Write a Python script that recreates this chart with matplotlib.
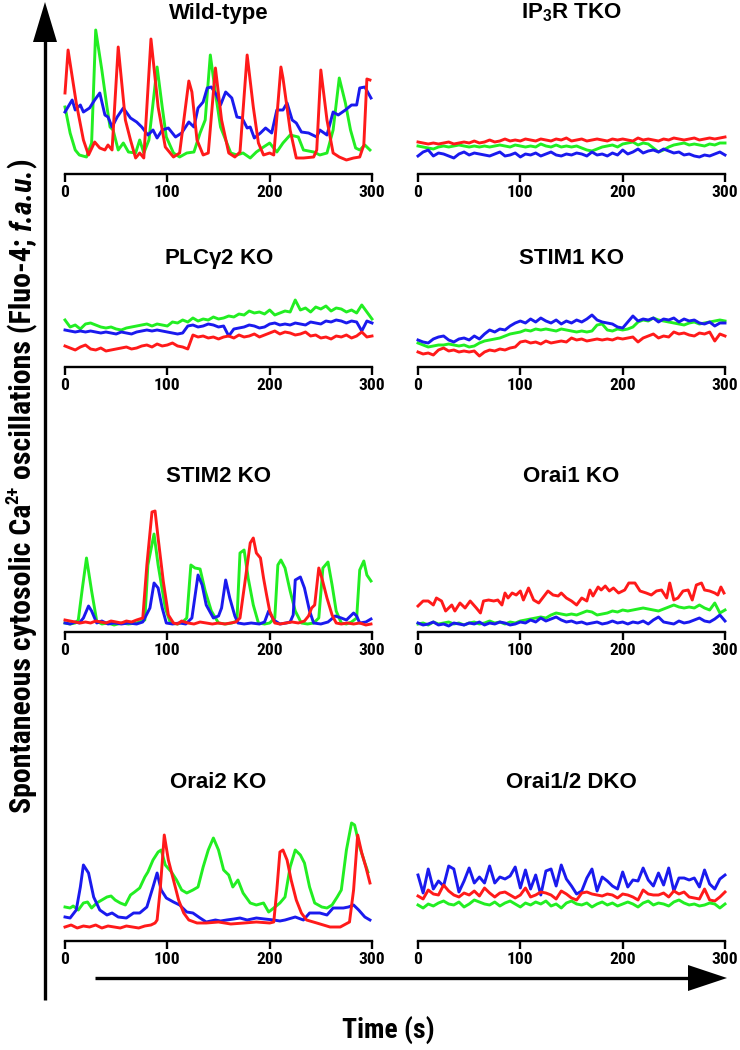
import matplotlib
matplotlib.use('Agg')
import matplotlib.pyplot as plt
from matplotlib import font_manager as fm

# ---------------- data (f.a.u.) ----------------
# Wild-type (time s, value)
wt_red_t = [0,3,11,18,23,29,34,39,42,46,52,59,64,69,73,77,84,91,98,106,112,121,124,129,135,140,147,153,160,166,171,178,184,189,194,200,204,211,213,220,226,233,243,246,250,256,262,268,275,282,288,292,295,298]
wt_red = [81,124,71,34,19,32,26,24,29,24,127,54,34,16,21,16,135,67,27,17,21,93,82,34,19,21,106,54,21,17,22,119,67,31,19,21,19,107,96,44,16,16,17,24,104,54,21,17,14,16,17,29,95,94]
wt_green_t = [0,5,10,14,21,26,30,36,41,44,47,52,57,62,69,73,77,82,90,95,99,106,112,119,126,132,137,142,147,152,157,162,168,174,181,187,194,200,207,213,220,228,233,243,249,256,262,268,274,279,284,288,293,298]
wt_green = [67,41,24,19,17,31,144,104,67,47,44,24,31,22,21,34,21,34,107,67,37,21,17,21,22,41,54,119,81,47,34,21,19,21,16,22,27,31,22,31,39,37,24,22,19,21,44,96,71,44,26,24,29,24]
wt_blue_t = [0,7,10,15,18,24,29,34,39,42,46,51,57,64,70,75,81,86,90,95,101,108,114,121,126,130,135,139,143,148,152,157,163,168,173,178,181,185,191,196,202,207,213,217,222,226,231,238,246,249,256,262,267,274,280,285,288,293,299]
wt_blue = [62,74,64,69,62,66,74,81,59,57,47,57,66,56,52,47,39,44,36,44,46,37,41,52,47,66,72,86,87,79,69,82,76,57,56,46,47,36,41,46,41,64,64,71,54,51,42,41,37,44,39,62,59,64,69,69,86,87,76]

# regular 5-s sampling used for the slowly varying traces
t5 = list(range(0, 301, 5))

ip3_red = [32,31,30,31,30,31,32,30,31,32,31,33,31,32,34,32,33,35,33,34,33,35,34,33,35,34,33,35,34,36,33,34,35,33,34,35,34,33,35,34,35,34,33,36,34,35,34,33,35,34,36,35,34,35,36,34,35,36,35,36,37]
ip3_green = [28,27,26,25,27,28,27,28,29,28,27,28,27,28,27,28,29,28,27,29,28,27,28,27,30,28,27,29,27,28,27,28,26,24,23,25,27,28,29,27,30,31,32,29,31,30,26,22,24,27,29,30,31,29,30,29,28,30,29,31,31]
ip3_blue = [18,22,24,18,21,20,18,16,20,22,19,21,20,19,18,20,22,18,19,21,17,20,19,21,18,20,22,19,18,20,19,21,20,18,22,19,20,18,21,19,24,20,22,25,21,23,24,22,25,23,21,22,19,20,18,17,19,18,20,22,19]

plc_green = [47,40,42,38,43,44,42,40,39,40,38,37,39,40,41,42,43,41,43,42,41,45,44,47,45,49,46,48,47,50,48,49,51,50,53,52,56,54,55,53,57,52,54,56,55,67,57,59,55,60,58,61,56,59,58,55,57,54,62,55,48]
plc_blue = [37,36,35,36,35,36,35,34,35,34,33,35,34,33,35,36,37,36,37,36,35,34,33,34,41,42,40,41,43,42,40,41,31,38,39,40,42,41,39,40,43,44,42,43,42,44,43,42,45,44,43,46,45,47,46,44,46,45,36,46,44]
plc_red = [21,19,17,20,22,18,17,19,16,17,18,19,20,18,19,21,22,20,23,21,22,24,21,20,18,32,30,31,29,30,28,30,31,29,32,30,31,33,30,32,34,36,33,35,34,32,33,35,31,32,29,30,28,31,30,32,29,31,35,30,31]

stim1_blue = [27,25,24,28,30,31,27,25,28,29,27,31,28,33,37,35,38,37,41,44,46,44,48,45,49,46,44,47,43,46,44,47,45,48,52,47,45,44,43,40,39,45,51,46,48,47,49,45,48,47,49,45,48,46,47,44,43,45,41,44,44]
stim1_green = [24,22,20,21,22,22,23,22,21,22,20,21,24,26,27,28,29,31,33,34,35,37,36,38,37,38,37,36,38,37,36,35,36,35,36,42,43,37,36,38,37,38,40,45,47,46,49,47,46,45,44,43,42,44,45,43,44,45,46,47,46]
stim1_red = [15,13,14,12,17,19,16,17,15,16,15,16,11,15,17,16,18,17,19,20,25,26,24,25,23,26,24,25,26,25,29,27,28,26,27,28,27,28,27,29,28,29,30,25,29,31,33,29,31,30,35,33,34,32,31,34,33,35,26,33,31]

stim2_green_t = [0,5,10,13,17,21,26,31,36,42,48,55,62,70,78,81,87,91,98,103,110,115,119,123,127,132,137,143,150,157,163,168,171,175,179,184,189,195,200,205,208,211,215,220,225,231,237,243,248,252,257,261,265,270,275,280,285,288,292,295,299]
stim2_green = [5,4,5,8,40,70,37,7,4,5,3,5,4,5,8,63,94,63,20,5,4,6,10,63,60,59,37,17,5,4,5,7,75,78,50,23,5,4,5,10,63,68,60,37,17,5,4,5,10,60,66,43,17,5,4,6,10,58,67,53,47]
stim2_red_t = [0,5,10,15,20,25,30,35,40,45,50,55,60,65,70,76,80,85,88,91,96,101,106,110,114,120,126,132,138,144,150,156,162,167,171,176,181,184,187,191,194,197,200,205,210,216,222,228,234,238,241,244,248,251,256,261,265,270,276,282,288,294,299]
stim2_red = [8,7,6,5,6,5,7,6,5,7,6,5,7,6,8,10,63,116,117,90,47,13,5,4,7,5,4,6,5,4,5,4,5,6,10,47,85,90,75,70,50,33,17,5,4,5,6,5,7,12,20,23,60,50,30,13,5,4,5,4,5,3,4]
stim2_blue_t = [0,5,10,14,18,23,26,31,36,42,48,55,62,70,76,83,87,91,95,99,105,112,118,124,130,134,138,145,150,153,157,161,166,169,175,182,190,195,199,204,210,216,220,223,225,230,234,239,243,250,257,264,270,275,282,285,288,294,299]
stim2_blue = [5,4,6,5,10,22,17,5,7,4,5,4,5,4,6,20,45,40,20,5,4,5,4,10,53,43,23,10,12,20,48,30,12,5,4,5,4,6,17,8,4,5,6,13,48,51,40,17,5,4,6,12,10,8,15,12,5,6,9]

orai1_red_t = [0,5,10,15,18,23,27,33,36,41,46,51,57,61,64,69,74,78,82,85,88,92,96,100,103,108,113,118,124,127,132,137,140,145,150,155,160,165,168,171,176,179,183,187,191,196,202,206,212,217,223,228,233,238,243,246,250,254,259,264,268,272,277,280,285,290,293,296,299]
orai1_red = [22,27,27,23,30,27,17,23,17,25,20,27,20,15,27,28,27,28,23,35,30,35,33,37,28,40,28,25,33,37,33,32,35,30,27,23,30,27,38,32,41,38,42,37,40,35,38,45,45,37,35,33,37,38,30,45,28,30,37,38,28,43,45,38,37,35,33,41,35]
orai1_green = [4,5,3,6,4,5,6,4,5,3,5,6,4,5,7,5,6,4,6,5,7,8,9,10,11,10,13,15,14,13,14,13,15,17,16,13,14,15,17,16,18,17,18,19,20,19,18,17,19,21,23,21,20,21,20,23,20,18,25,15,18]
orai1_blue = [5,3,4,6,3,4,2,5,4,3,5,4,6,3,5,4,6,5,3,4,6,5,8,6,10,7,9,11,8,6,7,5,6,4,5,6,4,5,7,5,6,4,6,5,7,4,8,11,6,5,4,7,5,6,8,10,7,6,9,13,7]

orai2_green_t = [0,5,8,13,18,22,26,31,36,41,45,49,54,59,64,68,73,78,81,86,91,94,98,104,109,114,119,125,130,135,140,145,150,155,160,164,169,174,181,187,194,199,204,210,215,220,225,230,234,239,244,251,256,261,266,270,275,280,283,288,293,296]
orai2_green = [34,33,35,31,38,39,33,38,41,44,45,41,38,36,46,49,53,64,69,81,89,91,76,69,61,51,48,51,54,74,91,103,91,71,66,54,61,48,38,36,38,29,33,38,44,74,91,86,78,54,38,34,33,36,44,51,91,118,116,94,78,69]
orai2_blue_t = [0,5,11,15,18,23,28,34,41,46,52,60,67,73,80,86,90,94,99,106,112,119,125,132,138,147,152,158,165,171,178,187,195,204,210,215,225,233,239,249,256,262,272,277,282,287,293,298]
orai2_blue = [24,23,31,54,76,68,44,31,26,28,24,23,28,28,34,54,68,51,43,39,36,29,28,23,19,21,20,21,22,23,21,23,22,21,20,21,24,21,28,28,26,33,33,34,36,31,24,21]
orai2_red_t = [0,6,12,18,24,30,36,42,48,54,60,66,72,78,84,88,90,93,97,101,106,111,116,121,129,138,150,162,175,187,200,204,207,210,213,217,221,226,231,236,246,259,269,278,282,286,290,294,298]
orai2_red = [14,16,13,15,14,16,13,15,14,13,15,14,13,15,16,18,21,51,106,81,61,41,28,21,18,18,19,17,18,19,18,19,51,89,91,81,61,41,28,21,18,14,14,19,51,106,88,74,58]

dko_blue = [66,48,72,52,60,55,75,72,49,60,73,58,64,58,75,58,64,62,65,74,53,71,52,66,46,70,72,55,76,62,55,47,50,63,72,50,64,60,55,52,69,54,61,60,73,61,55,68,56,73,50,63,63,61,63,54,71,57,52,62,66]
dko_red = [45,42,51,47,46,56,50,46,44,48,46,50,45,53,48,44,48,49,46,43,46,53,44,46,49,48,46,42,50,47,43,41,48,49,47,46,45,47,46,43,47,46,44,41,51,47,46,46,48,44,50,47,49,44,43,42,52,41,40,44,49]
dko_green = [36,33,37,35,38,40,37,36,39,34,37,41,39,37,36,39,35,38,40,37,34,38,36,39,37,40,35,37,33,38,40,37,36,38,34,37,39,36,38,35,37,39,37,34,38,40,36,38,37,35,39,41,38,36,37,35,36,38,37,33,37]

titles = ['Wild-type', 'IP$_{\\mathbf{3}}$R TKO', 'PLC$\\mathbf{\\gamma}$2 KO', 'STIM1 KO',
          'STIM2 KO', 'Orai1 KO', 'Orai2 KO', 'Orai1/2 DKO']
xticks = [0, 100, 200, 300]
ylabel_parts = ['Spontaneous cytosolic Ca', '2+', 'oscillations (Fluo-4;', 'f.a.u.', ')']
xlabel = 'Time (s)'

RED, GREEN, BLUE = '#ff1a1a', '#22ee22', '#1a1aee'

series = [
    [(wt_green_t, wt_green, GREEN), (wt_blue_t, wt_blue, BLUE), (wt_red_t, wt_red, RED)],
    [(t5, ip3_green, GREEN), (t5, ip3_red, RED), (t5, ip3_blue, BLUE)],
    [(t5, plc_green, GREEN), (t5, plc_blue, BLUE), (t5, plc_red, RED)],
    [(t5, stim1_green, GREEN), (t5, stim1_blue, BLUE), (t5, stim1_red, RED)],
    [(stim2_green_t, stim2_green, GREEN), (stim2_blue_t, stim2_blue, BLUE), (stim2_red_t, stim2_red, RED)],
    [(t5, orai1_green, GREEN), (t5, orai1_blue, BLUE), (orai1_red_t, orai1_red, RED)],
    [(orai2_green_t, orai2_green, GREEN), (orai2_blue_t, orai2_blue, BLUE), (orai2_red_t, orai2_red, RED)],
    [(t5, dko_blue, BLUE), (t5, dko_red, RED), (t5, dko_green, GREEN)],
]

# ---------------- fonts ----------------
names = {f.name for f in fm.fontManager.ttflist}
REG = 'Liberation Sans' if 'Liberation Sans' in names else 'DejaVu Sans'
plt.rcParams['font.family'] = [REG, 'DejaVu Sans']
plt.rcParams['mathtext.fontset'] = 'custom'
plt.rcParams['mathtext.rm'] = REG + ':bold'
plt.rcParams['mathtext.bf'] = REG + ':bold'
plt.rcParams['mathtext.it'] = REG + ':bold:italic'


def _w(f):
    w = f.weight
    if isinstance(w, str):
        w = fm.weight_dict.get(w, 400)
    return w


def narrow_font(italic=False):
    """Return FontProperties of a bold condensed face, if any is installed."""
    best = None
    for f in fm.fontManager.ttflist:
        tag = (f.name + ' ' + f.fname).lower()
        cond = ('narrow' in tag or 'condensed' in tag or
                str(f.stretch) in ('condensed', 'semi-condensed'))
        if not cond or _w(f) < 600:
            continue
        is_it = f.style in ('italic', 'oblique')
        if is_it != italic:
            continue
        order = 9
        for k, key in enumerate(['liberation', 'arial', 'roboto', 'open sans',
                                 'noto sans', 'dejavu']):
            if key in tag:
                order = k
                break
        score = (order, abs(_w(f) - 700))
        if best is None or score < best[0]:
            best = (score, f.fname)
    if best is None:
        return fm.FontProperties(family=REG, weight='bold',
                                 style='italic' if italic else 'normal')
    return fm.FontProperties(fname=best[1])


NB = narrow_font(False)
NBI = narrow_font(True)

# ---------------- layout (pixels) ----------------
W, H = 740, 1050
fig = plt.figure(figsize=(W / 100, H / 100), dpi=100)
fig.patch.set_facecolor('white')

col_x = [(65, 372), (418, 725)]
row_axis_y = [174, 367, 632, 941]
row_zero_y = [174, 367, 628, 941]
row_title_y = [13, 259, 477, 782]
AX_H = 170

tick_fp = NB.copy()
tick_fp.set_size(12.5)

for i, ser in enumerate(series):
    r, c = divmod(i, 2)
    x0, x1 = col_x[c]
    ya = row_axis_y[r]
    lo = -(row_axis_y[r] - row_zero_y[r])
    ax = fig.add_axes([x0 / W, 1 - ya / H, (x1 - x0) / W, AX_H / H])
    ax.set_xlim(0, 300)
    ax.set_ylim(lo, lo + AX_H)
    for t, v, col in ser:
        ax.plot(t, v, color=col, lw=2.1, clip_on=False)
    for s in ['top', 'right', 'left']:
        ax.spines[s].set_visible(False)
    ax.spines['bottom'].set_linewidth(1.7)
    ax.set_yticks([])
    ax.set_xticks(xticks)
    ax.tick_params(axis='x', direction='out', length=6, width=1.7, pad=2)
    ax.set_xticklabels([str(v) for v in xticks], fontproperties=tick_fp)
    ax.patch.set_alpha(0)

# overlay for titles, arrows, axis labels
ov = fig.add_axes([0, 0, 1, 1])
ov.set_xlim(0, W)
ov.set_ylim(H, 0)
ov.axis('off')
ov.patch.set_alpha(0)

for i, ttl in enumerate(titles):
    r, c = divmod(i, 2)
    xc = sum(col_x[c]) / 2
    ov.text(xc, row_title_y[r], ttl, ha='center', va='center', fontsize=16,
            fontweight='bold', fontfamily=REG)

# vertical arrow
ov.plot([45, 45], [1000, 38], color='black', lw=2.4, solid_capstyle='butt')
ov.fill([45, 33, 57], [2, 42, 42], color='black', lw=0)
# horizontal arrow
ov.plot([95, 692], [978, 978], color='black', lw=2.4, solid_capstyle='butt')
ov.fill([727, 688, 688], [978, 965, 991], color='black', lw=0)

# rotated y label, built from pieces (superscript and italic part)
renderer = fig.canvas.get_renderer()


def text_w(s, fp):
    return renderer.get_text_width_height_descent(s, fp, ismath=False)[0]


def label_pieces(size):
    fb = NB.copy(); fb.set_size(size)
    fi = NBI.copy(); fi.set_size(size)
    fs = NB.copy(); fs.set_size(size * 0.62)
    sp = text_w('a a', fb) - text_w('aa', fb)
    specs = [(ylabel_parts[0], fb, 0.0, 0.0),
             (ylabel_parts[1], fs, 0.42, sp),
             (ylabel_parts[2], fb, 0.0, sp),
             (ylabel_parts[3], fi, 0.0, 0.0),
             (ylabel_parts[4], fb, 0.0, 0.0)]
    return specs, sp


def label_length(size):
    specs, sp = label_pieces(size)
    L = 0.0
    for s, fp, up, gap in specs:
        L += text_w(s, fp) + gap
    return L


TARGET_L, YC, XB = 765, 486, 31
size = 10 * TARGET_L / label_length(10)
size = max(13, min(size, 21.5))
specs, sp = label_pieces(size)
L = label_length(size)
y = YC + L / 2
em = size * 100 / 72
for s, fp, up, gap in specs:
    ov.text(XB - up * em, y, s, rotation=90, rotation_mode='anchor',
            ha='left', va='baseline', fontproperties=fp)
    y -= text_w(s, fp) + gap

xl_fp = NB.copy()
xl_fp.set_size(20)
ov.text(388, 1030, xlabel, ha='center', va='center', fontproperties=xl_fp)

fig.savefig('out.png', dpi=100, facecolor='white')
